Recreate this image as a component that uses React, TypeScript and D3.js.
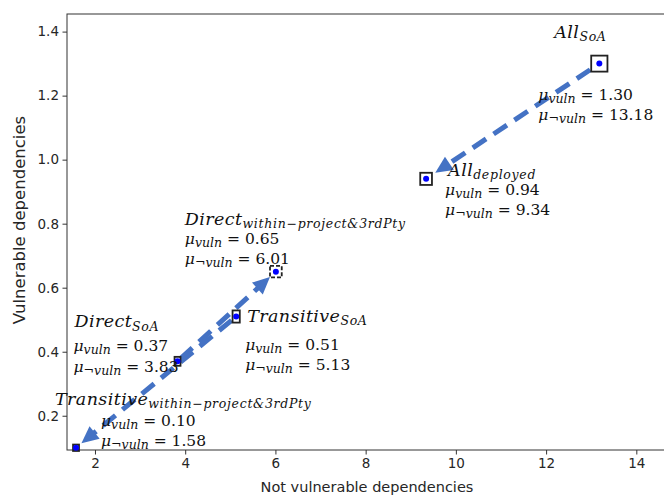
import { useEffect, useRef } from 'react';
import * as d3 from 'd3';

// groups as plotted: name + subscript scope
const names = ['All', 'All', 'Direct', 'Transitive', 'Direct', 'Transitive'];
const scopes = ['SoA', 'deployed', 'within\u2212project&3rdPty', 'SoA', 'SoA', 'within\u2212project&3rdPty'];
// mean vulnerable / not vulnerable dependencies
const muVuln = [1.30, 0.94, 0.65, 0.51, 0.37, 0.10];
const muNotVuln = [13.18, 9.34, 6.01, 5.13, 3.83, 1.58];
// error extents (half widths)
const errX = [0.18, 0.13, 0.13, 0.08, 0.066, 0.066];
const errY = [0.025, 0.019, 0.018, 0.019, 0.014, 0.01];
// arrows: from index -> to index
const arrowPairs = [[0, 1], [4, 2], [3, 5]];

const xTicks = [2, 4, 6, 8, 10, 12, 14];
const yTicks = [0.2, 0.4, 0.6, 0.8, 1.0, 1.2, 1.4];

// label layout, pixel offsets from the point
const titleOff = [[-45, -26], [22, -3], [-91, -47], [11, 5], [-103, -34], [-21, -43]];
const statOff = [[-61, 36], [19, 16], [-91, -28], [9, 33], [-104, -10], [25, -22]];
const arrowShrink = [[11, 11], [4, 8], [6, 7]];

export default function App() {
  const ref = useRef<SVGSVGElement | null>(null);

  useEffect(() => {
    const el = ref.current;
    if (!el) return;
    const svg = d3.select(el);
    svg.selectAll('*').remove();

    const w = 664, h = 495;
    const m = { t: 14, r: -3, b: 45, l: 67 };

    const x = d3.scaleLinear().domain([1.38, 14.68]).range([m.l, w - m.r]);
    const y = d3.scaleLinear().domain([0.093, 1.455]).range([h - m.b, m.t]);

    const sans = 'DejaVu Sans, sans-serif';
    const serif = 'DejaVu Serif, serif';

    // axes
    const gx = svg.append('g')
      .attr('transform', `translate(0,${h - m.b})`)
      .call(d3.axisBottom(x).tickValues(xTicks).tickSize(4.5).tickPadding(3.5).tickFormat(d3.format('d')));
    const gy = svg.append('g')
      .attr('transform', `translate(${m.l},0)`)
      .call(d3.axisLeft(y).tickValues(yTicks).tickSize(4.5).tickPadding(3.5).tickFormat(d3.format('.1f')));
    [gx, gy].forEach(g => {
      g.select('.domain').remove();
      g.selectAll('line').attr('stroke', '#333');
      g.selectAll('text').attr('font-family', sans).attr('font-size', 13.5).attr('fill', '#262626');
    });

    // frame
    svg.append('rect')
      .attr('x', m.l).attr('y', m.t)
      .attr('width', w - m.r - m.l).attr('height', h - m.b - m.t)
      .attr('fill', 'none').attr('stroke', '#333').attr('stroke-width', 1);

    svg.append('text')
      .attr('x', (m.l + w - m.r) / 2).attr('y', 492)
      .attr('text-anchor', 'middle')
      .attr('font-family', sans).attr('font-size', 14.5).attr('fill', '#262626')
      .text('Not vulnerable dependencies');
    svg.append('text')
      .attr('transform', 'translate(25,220) rotate(-90)')
      .attr('text-anchor', 'middle')
      .attr('font-family', sans).attr('font-size', 16.5).attr('fill', '#262626')
      .text('Vulnerable dependencies');

    // arrows
    const blue = '#4472c4';
    arrowPairs.forEach(([a, b], i) => {
      const x0 = x(muNotVuln[a]), y0 = y(muVuln[a]);
      const x1 = x(muNotVuln[b]), y1 = y(muVuln[b]);
      const dx = x1 - x0, dy = y1 - y0;
      const len = Math.hypot(dx, dy);
      const ux = dx / len, uy = dy / len;
      const [sa, sb] = arrowShrink[i];
      const tx = x0 + ux * sa, ty = y0 + uy * sa;
      const hx = x1 - ux * sb, hy = y1 - uy * sb;
      const headLen = 17, headW = 8;
      const bx = hx - ux * headLen, by = hy - uy * headLen;
      svg.append('line')
        .attr('x1', tx).attr('y1', ty).attr('x2', bx + ux * 2).attr('y2', by + uy * 2)
        .attr('stroke', blue).attr('stroke-width', 5)
        .attr('stroke-dasharray', '16 9');
      svg.append('path')
        .attr('d', `M${hx},${hy}L${bx - uy * headW},${by + ux * headW}L${bx + uy * headW},${by - ux * headW}Z`)
        .attr('fill', blue);
    });

    // markers
    muVuln.forEach((v, i) => {
      const cx = x(muNotVuln[i]), cy = y(v);
      const x0 = x(muNotVuln[i] - errX[i]), x1 = x(muNotVuln[i] + errX[i]);
      const y0 = y(v + errY[i]), y1 = y(v - errY[i]);
      svg.append('rect')
        .attr('x', x0).attr('y', y0).attr('width', x1 - x0).attr('height', y1 - y0)
        .attr('fill', 'none').attr('stroke', '#222').attr('stroke-width', 1.8)
        .attr('stroke-dasharray', i === 2 ? '4 2' : null);
      svg.append('circle').attr('cx', cx).attr('cy', cy).attr('r', 3).attr('fill', '#0000ff');
    });

    // labels
    muVuln.forEach((v, i) => {
      const cx = x(muNotVuln[i]), cy = y(v);
      const t = svg.append('text')
        .attr('x', cx + titleOff[i][0]).attr('y', cy + titleOff[i][1])
        .attr('font-family', serif).attr('font-style', 'italic').attr('fill', '#111');
      t.append('tspan').attr('font-size', 17.5).attr('letter-spacing', 0.4).text(names[i]);
      t.append('tspan').attr('font-size', 12.5).attr('dy', 3.5).attr('letter-spacing', 0.7).text(scopes[i]);

      const lines = [['vuln', d3.format('.2f')(v)], ['\u00acvuln', d3.format('.2f')(muNotVuln[i])]];
      lines.forEach(([sub, val], k) => {
        const s = svg.append('text')
          .attr('x', cx + statOff[i][0]).attr('y', cy + statOff[i][1] + k * 20.5)
          .attr('font-family', serif).attr('fill', '#111');
        s.append('tspan').attr('font-size', 15.5).attr('font-style', 'italic').text('\u03bc');
        s.append('tspan').attr('font-size', 12.5).attr('font-style', 'italic').attr('dy', 3).text(sub);
        s.append('tspan').attr('font-size', 15.5).attr('dy', -3).text(` = ${val}`);
      });
    });
  }, []);

  return (
    <svg
      ref={ref}
      width={664}
      height={495}
      style={{ position: 'absolute', left: 0, top: 0, background: '#fff' }}
    />
  );
}
